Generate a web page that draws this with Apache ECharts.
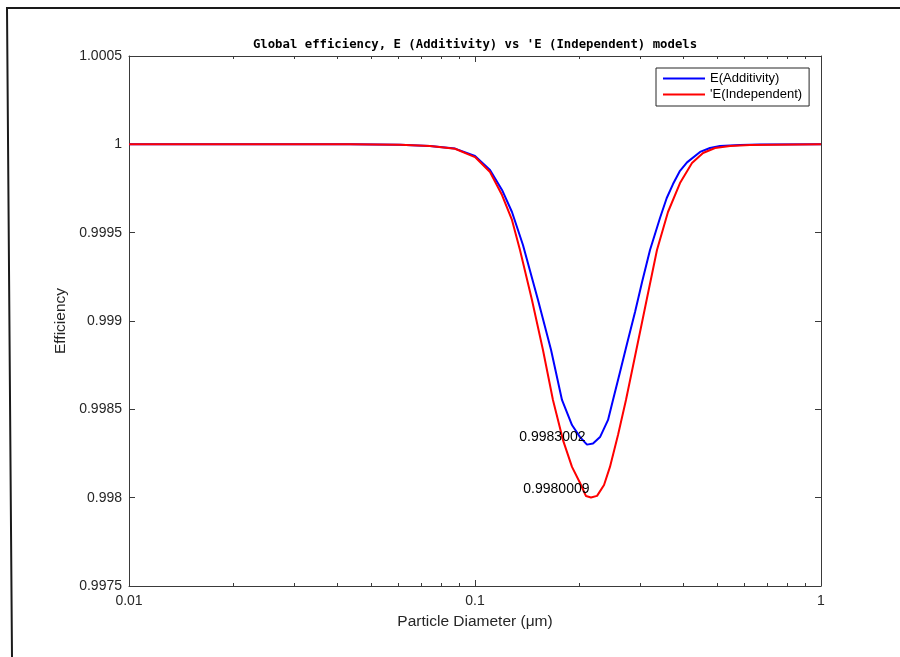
<!DOCTYPE html>
<html>
<head>
<meta charset="utf-8">
<style>
  html, body { margin: 0; padding: 0; background: #fff; }
  #chart { width: 900px; height: 657px; }
</style>
<script src="https://cdn.jsdelivr.net/npm/echarts@6/dist/echarts.min.js"></script>
</head>
<body>
<div id="chart"></div>
<script>
// Particle diameters (µm) and global efficiency, additivity model
const diamAdd = [0.01, 0.02237, 0.04353, 0.0607, 0.07413, 0.08754, 0.1, 0.1105, 0.1197, 0.1279,
  0.1376, 0.1521, 0.1659, 0.1784, 0.1907, 0.2012, 0.2107, 0.2193, 0.2298, 0.2424, 0.2505,
  0.2625, 0.2749, 0.2901, 0.3040, 0.3205, 0.3425, 0.3580, 0.3735, 0.3913, 0.4100, 0.4471, 0.4777, 0.5106,
  0.5832, 0.6662, 1];
const effAdd = [1, 1, 1, 0.999998, 0.99999, 0.999976, 0.999934, 0.999855, 0.999742, 0.999617,
  0.99943, 0.999119, 0.998836, 0.998553, 0.998411, 0.998343, 0.9983002, 0.998306, 0.998343, 0.99844, 0.998553,
  0.998711, 0.99887, 0.999051, 0.999221, 0.999402, 0.999583, 0.999695, 0.999775, 0.99985, 0.999898, 0.999957, 0.999979, 0.99999,
  0.999996, 0.999999, 1];

// Particle diameters (µm) and global efficiency, independent model
const diamInd = [0.01, 0.02237, 0.04353, 0.0607, 0.07413, 0.08754, 0.1, 0.1105, 0.1197, 0.1279,
  0.1349, 0.1461, 0.1572, 0.1680, 0.1796, 0.1907, 0.2012, 0.2093, 0.2164, 0.2253, 0.2360,
  0.2455, 0.2590, 0.2731, 0.2862, 0.2999, 0.3142, 0.3248, 0.3357, 0.3612, 0.3913, 0.4238,
  0.4561, 0.4940, 0.5458, 0.6233, 1];
const effInd = [1, 1, 1, 0.999998, 0.99999, 0.999975, 0.999928, 0.999843, 0.999713, 0.999572,
  0.999402, 0.999119, 0.998836, 0.998553, 0.998326, 0.998174, 0.998083, 0.998009, 0.9980009, 0.99801, 0.998072,
  0.998174, 0.998355, 0.998553, 0.998745, 0.998938, 0.99913, 0.999266, 0.999402, 0.999617, 0.999781, 0.999894,
  0.999951, 0.999979, 0.99999, 0.999996, 1];

const seriesNames = ['E(Additivity)', "'E(Independent)"];
const chartTitle = "Global efficiency, E (Additivity) vs 'E (Independent) models";
const xTitle = 'Particle Diameter (\u03bcm)';
const yTitle = 'Efficiency';
const xMinorTicks = [0.02, 0.03, 0.04, 0.05, 0.06, 0.07, 0.08, 0.09,
  0.2, 0.3, 0.4, 0.5, 0.6, 0.7, 0.8, 0.9];

const axisColor = '#3a3a3a';
const textColor = '#262626';
const sansFont = 'Liberation Sans, Arial, sans-serif';

function pairs(xs, ys) { return xs.map((x, i) => [x, ys[i]]); }
function minPoint(xs, ys) {
  let k = 0;
  ys.forEach((v, i) => { if (v < ys[k]) k = i; });
  return [xs[k], ys[k]];
}

const minAdd = minPoint(diamAdd, effAdd);
const minInd = minPoint(diamInd, effInd);

const chart = echarts.init(document.getElementById('chart'), null, { renderer: 'canvas' });

const logAxisBase = {
  type: 'log', logBase: 10, min: 0.01, max: 1,
  splitLine: { show: false },
  axisLine: { show: true, onZero: false, lineStyle: { color: axisColor, width: 1 } },
  axisTick: { show: true, inside: true, length: 6, lineStyle: { color: axisColor } },
  axisLabel: { show: false },
  minorTick: { show: false }
};

function minorX(position) {
  return Object.assign({}, logAxisBase, {
    position,
    axisLine: { show: false },
    axisTick: { show: true, inside: true, length: 3, customValues: xMinorTicks, lineStyle: { color: axisColor } }
  });
}

const valueAxisBase = {
  type: 'value', min: 0.9975, max: 1.0005, interval: 0.0005,
  scale: true,
  splitLine: { show: false },
  axisLine: { show: true, onZero: false, lineStyle: { color: axisColor, width: 1 } },
  axisTick: { show: true, inside: true, length: 6, lineStyle: { color: axisColor } }
};

const markLabel = (pt, dy) => ({
  symbol: 'circle', symbolSize: 1,
  itemStyle: { color: 'rgba(0,0,0,0)' },
  data: [{ coord: pt, value: pt[1] }],
  label: {
    show: true, position: 'left', distance: 1, offset: [0, dy],
    color: '#000', fontFamily: sansFont, fontSize: 14,
    formatter: p => Number(p.value).toFixed(7)
  }
});

chart.setOption({
  animation: false,
  backgroundColor: '#fff',
  grid: { left: 129, right: 79, top: 56, bottom: 71, containLabel: false },
  legend: {
    orient: 'vertical', left: 656, top: 68,
    padding: [4, 7, 5, 7], itemGap: 3,
    itemWidth: 42, itemHeight: 2, itemTextGap: 8,
    backgroundColor: '#fff', borderColor: '#262626', borderWidth: 1,
    textStyle: { fontFamily: sansFont, fontSize: 13, color: '#000' },
    data: seriesNames.map(n => ({ name: n, icon: 'rect' }))
  },
  xAxis: [
    Object.assign({}, logAxisBase, {
      position: 'bottom',
      name: xTitle, nameLocation: 'middle', nameGap: 28,
      nameTextStyle: { fontFamily: sansFont, fontSize: 15.5, color: textColor },
      axisLabel: {
        show: true, margin: 8, fontFamily: sansFont, fontSize: 14, color: textColor,
        formatter: v => String(parseFloat(Number(v).toPrecision(3)))
      }
    }),
    minorX('bottom'),
    Object.assign({}, logAxisBase, { position: 'top' }),
    minorX('top')
  ],
  yAxis: [
    Object.assign({}, valueAxisBase, {
      position: 'left',
      name: yTitle, nameLocation: 'middle', nameGap: 56, nameRotate: 90,
      nameTextStyle: { fontFamily: sansFont, fontSize: 15.5, color: textColor },
      axisLabel: {
        show: true, margin: 7, fontFamily: sansFont, fontSize: 14, color: textColor,
        formatter: v => String(parseFloat(Number(v).toFixed(4)))
      }
    }),
    Object.assign({}, valueAxisBase, { position: 'right', axisLabel: { show: false } })
  ],
  series: [
    {
      name: seriesNames[0], type: 'line', xAxisIndex: 0, yAxisIndex: 0,
      data: pairs(diamAdd, effAdd), symbol: 'none', smooth: false,
      lineStyle: { color: '#0000ff', width: 2 }, itemStyle: { color: '#0000ff' },
      z: 3,
      markPoint: markLabel(minAdd, -7)
    },
    {
      name: seriesNames[1], type: 'line', xAxisIndex: 0, yAxisIndex: 0,
      data: pairs(diamInd, effInd), symbol: 'none', smooth: false,
      lineStyle: { color: '#ff0000', width: 2 }, itemStyle: { color: '#ff0000' },
      z: 4,
      markPoint: markLabel(minInd, -8)
    }
  ],
  graphic: [
    {
      type: 'text', x: 475, y: 45,
      style: {
        text: chartTitle,
        align: 'center', verticalAlign: 'middle',
        fontFamily: 'DejaVu Sans Mono, monospace', fontWeight: 'bold', fontSize: 12.3,
        fill: '#000'
      }
    },
    {
      type: 'polyline', silent: true,
      shape: { points: [[12, 657], [7, 8], [900, 8]] },
      style: { stroke: '#1a1a1a', lineWidth: 2, fill: null }
    }
  ]
});
</script>
</body>
</html>
